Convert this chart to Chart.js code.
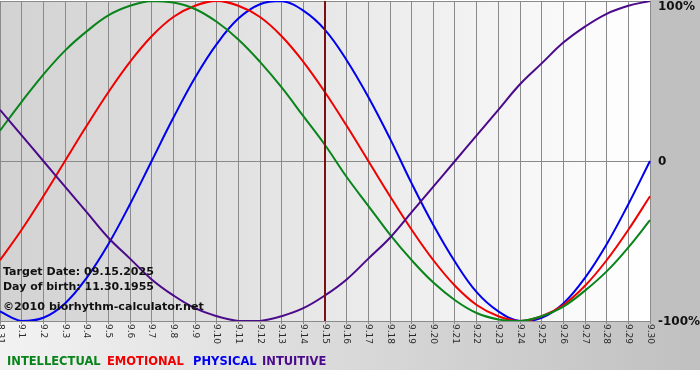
<!DOCTYPE html>
<html>
<head>
<meta charset="utf-8">
<script src="https://cdn.jsdelivr.net/npm/chart.js@4.4.0/dist/chart.umd.min.js"></script>
<style>
html,body{margin:0;padding:0;background:#fff;}
#wrap{width:700px;height:380px;position:relative;}
</style>
</head>
<body>
<div id="wrap"><canvas id="c" width="700" height="380"></canvas></div>
<script>
const days = ['8.31','9.1','9.2','9.3','9.4','9.5','9.6','9.7','9.8','9.9','9.10','9.11','9.12','9.13','9.14','9.15','9.16','9.17','9.18','9.19','9.20','9.21','9.22','9.23','9.24','9.25','9.26','9.27','9.28','9.29','9.30'];
const physical = [-0.94,-1.00,-0.98,-0.89,-0.73,-0.52,-0.27,0.00,0.27,0.52,0.73,0.89,0.98,1.00,0.94,0.82,0.63,0.40,0.14,-0.14,-0.40,-0.63,-0.82,-0.94,-1.00,-0.98,-0.89,-0.73,-0.52,-0.27,0.00];
const emotional = [-0.62,-0.43,-0.22,0.00,0.22,0.43,0.62,0.78,0.90,0.97,1.00,0.97,0.90,0.78,0.62,0.43,0.22,0.00,-0.22,-0.43,-0.62,-0.78,-0.90,-0.97,-1.00,-0.97,-0.90,-0.78,-0.62,-0.43,-0.22];
const intellectual = [0.19,0.37,0.54,0.69,0.81,0.91,0.97,1.00,0.99,0.95,0.87,0.76,0.62,0.46,0.28,0.10,-0.10,-0.28,-0.46,-0.62,-0.76,-0.87,-0.95,-0.99,-1.00,-0.97,-0.91,-0.81,-0.69,-0.54,-0.37];
const intuitive = [0.32,0.16,0.00,-0.16,-0.32,-0.48,-0.61,-0.74,-0.84,-0.92,-0.97,-1.00,-1.00,-0.97,-0.92,-0.84,-0.74,-0.61,-0.48,-0.32,-0.16,0.00,0.16,0.32,0.48,0.61,0.74,0.84,0.92,0.97,1.00];
const yTicks = [1, 0, -1];
const yTickLabels = ['100%', '0', '-100%'];
const targetDay = '9.15';
const infoLines = ['Target Date: 09.15.2025', 'Day of birth: 11.30.1955', '\u00A92010 biorhythm-calculator.net'];
const legendNames = ['INTELLECTUAL', 'EMOTIONAL', 'PHYSICAL', 'INTUITIVE'];

const COLORS = {intellectual:'#08841a', emotional:'#f00000', physical:'#0000f0', intuitive:'#4a0a8a'};
const legendColors = [COLORS.intellectual, COLORS.emotional, COLORS.physical, COLORS.intuitive];

const bgPlugin = {
  id: 'bg',
  beforeDraw(chart) {
    const {ctx, chartArea: a, width, height} = chart;
    ctx.save();
    ctx.fillStyle = '#ffffff';
    ctx.fillRect(0, 0, width, height);
    let g2 = ctx.createLinearGradient(0, 0, width, 0);
    g2.addColorStop(0, '#f2f2f2');
    g2.addColorStop(1, '#c0c0c0');
    ctx.fillStyle = g2;
    ctx.fillRect(0, a.bottom, width, 370 - a.bottom);
    ctx.fillStyle = '#c0c0c0';
    ctx.fillRect(a.right, 0, width - a.right, a.bottom);
    let g = ctx.createLinearGradient(a.left, 0, a.right, 0);
    g.addColorStop(0, '#d2d2d2');
    g.addColorStop(0.5, '#e8e8e8');
    g.addColorStop(1, '#ffffff');
    ctx.fillStyle = g;
    ctx.fillRect(a.left, a.top, a.right - a.left, a.bottom - a.top);
    ctx.restore();
  },
  afterDatasetsDraw(chart) {
    const {ctx, chartArea: a, scales} = chart;
    const xs = scales.x, ys = scales.y;
    ctx.save();
    const tx = Math.round(xs.getPixelForValue(days.indexOf(targetDay)));
    ctx.strokeStyle = '#7a1010';
    ctx.lineWidth = 2;
    ctx.beginPath();
    ctx.moveTo(tx, a.top);
    ctx.lineTo(tx, a.bottom);
    ctx.stroke();
    ctx.fillStyle = '#111';
    ctx.textBaseline = 'middle';
    ctx.textAlign = 'left';
    const infoY = [272, 287, 307];
    const infoW = [151, 151, 201];
    infoLines.forEach((t, i) => {
      ctx.font = 'bold 11px "DejaVu Sans"';
      const w = ctx.measureText(t).width;
      const s = 11 * infoW[i] / w;
      ctx.font = 'bold ' + s.toFixed(2) + 'px "DejaVu Sans"';
      ctx.fillText(t, 3, infoY[i]);
    });
    ctx.fillStyle = '#2a2a2a';
    ctx.font = '9px "DejaVu Sans"';
    days.forEach((d, i) => {
      const x = xs.getPixelForValue(i);
      ctx.save();
      ctx.translate(x, a.bottom + 3);
      ctx.rotate(Math.PI / 2);
      ctx.textAlign = 'left';
      ctx.textBaseline = 'middle';
      ctx.fillText(d, 0, 0);
      ctx.restore();
    });
    ctx.fillStyle = '#111';
    ctx.font = 'bold 12px "DejaVu Sans"';
    ctx.textAlign = 'left';
    const yOff = [6, 1, 1];
    yTicks.forEach((v, i) => {
      ctx.fillText(yTickLabels[i], a.right + 8, ys.getPixelForValue(v) + yOff[i]);
    });
    const lx = [7, 107, 193, 262];
    ctx.font = 'bold 11.5px "DejaVu Sans"';
    legendNames.forEach((n, i) => {
      ctx.fillStyle = legendColors[i];
      ctx.fillText(n, lx[i], 362);
    });
    ctx.restore();
  }
};

const ds = (label, data, color) => ({
  label, data, borderColor: color, borderWidth: 2, pointRadius: 0, tension: 0.4, fill: false
});

new Chart(document.getElementById('c'), {
  type: 'line',
  data: {
    labels: days,
    datasets: [
      ds('INTUITIVE', intuitive, COLORS.intuitive),
      ds('INTELLECTUAL', intellectual, COLORS.intellectual),
      ds('EMOTIONAL', emotional, COLORS.emotional),
      ds('PHYSICAL', physical, COLORS.physical)
    ]
  },
  options: {
    responsive: false,
    animation: false,
    layout: {padding: {left: 0, right: 0, top: 1, bottom: 0}},
    plugins: {legend: {display: false}, tooltip: {enabled: false}},
    scales: {
      x: {
        type: 'category',
        offset: false,
        grid: {color: '#8a8a8a', lineWidth: 1, drawTicks: true, tickLength: 3, tickColor: '#8a8a8a'},
        border: {display: true, color: '#8a8a8a'},
        ticks: {display: false, autoSkip: false},
        afterFit(s) { s.height = 59; }
      },
      y: {
        position: 'right',
        min: -1, max: 1,
        afterBuildTicks(s) { s.ticks = yTicks.map(v => ({value: v})); },
        grid: {color: '#8a8a8a', lineWidth: 1, drawTicks: false},
        border: {display: false},
        ticks: {display: false},
        afterFit(s) { s.width = 50; }
      }
    }
  },
  plugins: [bgPlugin]
});
</script>
</body>
</html>
